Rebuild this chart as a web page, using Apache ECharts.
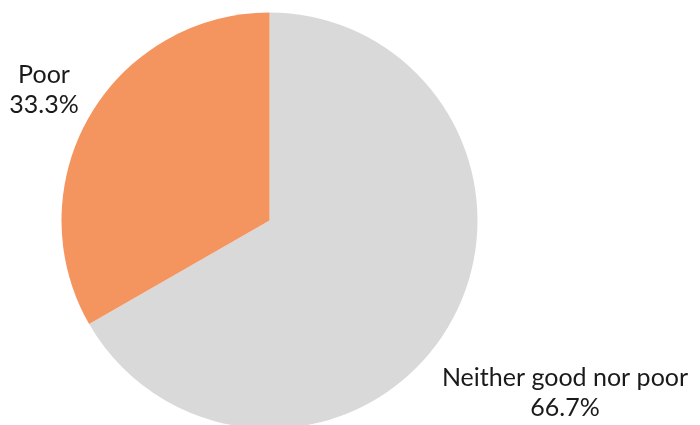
<!DOCTYPE html>
<html>
<head>
<meta charset="utf-8">
<script src="https://cdn.jsdelivr.net/npm/echarts@6/dist/echarts.min.js"></script>
<style>
  html, body { margin: 0; padding: 0; background: #fff; }
  #chart { width: 700px; height: 425px; }
</style>
</head>
<body>
<div id="chart"></div>
<script>
// 数据
const categories = ['Neither good nor poor', 'Poor'];
const values = [66.7, 33.3];
const colors = ['#D9D9D9', '#F4945F'];

// 标签位置 (label centre)
const labelPos = [[565, 393], [44, 90]];

const chart = echarts.init(document.getElementById('chart'));
chart.setOption({
  animation: false,
  series: [{
    type: 'pie',
    center: [269.5, 220.5],
    radius: 208,
    startAngle: 90,
    clockwise: true,
    avoidLabelOverlap: false,
    data: categories.map((name, i) => ({
      name: name,
      value: values[i],
      itemStyle: { color: colors[i] }
    })),
    label: {
      show: true,
      position: 'outside',
      alignTo: 'none',
      overflow: 'none',
      formatter: p => p.name + '\n' + p.value.toFixed(1) + '%',
      fontFamily: 'Lato',
      fontSize: 25,
      lineHeight: 30,
      color: '#1a1a1a',
      align: 'center'
    },
    labelLine: { show: false },
    labelLayout: function (params) {
      const pos = labelPos[params.dataIndex];
      return { x: pos[0], y: pos[1], align: 'center', verticalAlign: 'middle' };
    },
    emphasis: { disabled: true }
  }]
});
</script>
</body>
</html>
